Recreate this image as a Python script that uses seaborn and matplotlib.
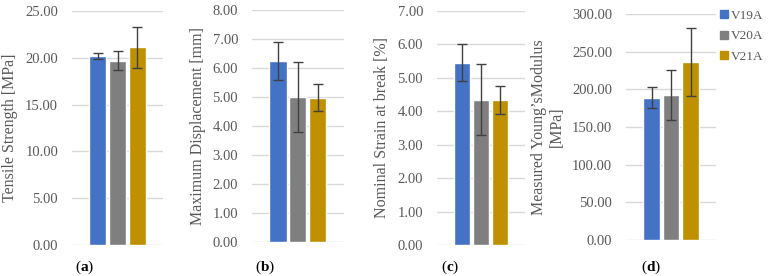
import pandas as pd
import matplotlib
matplotlib.use("Agg")
import matplotlib.pyplot as plt
import seaborn as sns

samples = ["V19A", "V20A", "V21A"]
colors = ["#4472C4", "#7F7F7F", "#BF9000"]

tensile_mean = [20.20, 19.70, 21.10]
tensile_sd = [0.30, 1.00, 2.20]
displ_mean = [6.25, 5.00, 4.98]
displ_sd = [0.65, 1.20, 0.48]
strain_mean = [5.45, 4.35, 4.35]
strain_sd = [0.55, 1.05, 0.42]
modulus_mean = [189.0, 192.0, 236.0]
modulus_sd = [14.0, 33.0, 45.0]

ylabels = ["Tensile Strength [MPa]", "Maximum Displacement [mm]",
           "Nominal Strain at break [%]", "Measured Young\u2019sModulus\n[MPa]"]
ymax = [25, 8, 7, 300]
ystep = [5, 1, 1, 50]
panel_tags = ["a", "b", "c", "d"]

sns.set_style("white")
plt.rcParams["font.family"] = ["Liberation Serif", "DejaVu Serif"]
plt.rcParams["mathtext.fontset"] = "custom"
plt.rcParams["mathtext.bf"] = "Liberation Serif:bold"
plt.rcParams["mathtext.rm"] = "Liberation Serif"

text_col = "#595959"
fig = plt.figure(figsize=(7.72, 2.76), dpi=100)

# axes rectangles in figure fractions
rects = [
    [0.0933, 0.1123, 0.118, 0.848],
    [0.3264, 0.1232, 0.119, 0.8406],
    [0.566, 0.1123, 0.114, 0.848],
    [0.811, 0.1304, 0.1166, 0.819],
]
tag_x = [0.109, 0.343, 0.583, 0.843]

means = [tensile_mean, displ_mean, strain_mean, modulus_mean]
sds = [tensile_sd, displ_sd, strain_sd, modulus_sd]

for i in range(4):
    ax = fig.add_axes(rects[i])
    df = pd.DataFrame({"grp": ["g"] * 3, "sample": samples, "value": means[i]})
    sns.barplot(data=df, x="grp", y="value", hue="sample", palette=colors,
                width=0.65, gap=0.14, saturation=1, ax=ax, legend=False,
                zorder=2)
    # error bars at bar centres
    xs = [p.get_x() + p.get_width() / 2 for p in ax.patches[:3]]
    ax.errorbar(xs, means[i], yerr=sds[i], fmt="none", ecolor="#404040",
                elinewidth=1.0, capsize=3.5, capthick=1.0, zorder=3)
    ax.set_xlim(-0.5, 0.5)
    ax.set_ylim(0, ymax[i])
    ticks = [ystep[i] * k for k in range(int(ymax[i] / ystep[i]) + 1)]
    ax.set_yticks(ticks)
    ax.set_yticklabels([f"{t:.2f}" for t in ticks], color=text_col, fontsize=10.5)
    ax.tick_params(axis="y", length=0, pad=10)
    ax.set_xticks([])
    ax.set_xlabel("")
    ax.set_ylabel(ylabels[i], color=text_col, fontsize=11.5, labelpad=5,
                  multialignment="center")
    ax.yaxis.grid(True, color="#D9D9D9", linewidth=1.0, zorder=0)
    ax.set_axisbelow(True)
    for s in ax.spines.values():
        s.set_visible(False)
    fig.text(tag_x[i], 0.02, r"($\mathbf{" + panel_tags[i] + r"}$)",
             fontsize=11, color="black", ha="center")

handles = [plt.Rectangle((0, 0), 1, 1, color=c) for c in colors]
fig.legend(handles, samples, loc="upper left", bbox_to_anchor=(0.933, 0.965),
           frameon=False, fontsize=9.5, handlelength=0.55, handleheight=0.55,
           handletextpad=0.25, labelspacing=0.65, labelcolor=text_col,
           borderaxespad=0, borderpad=0)

fig.savefig("out.png", dpi=100)
